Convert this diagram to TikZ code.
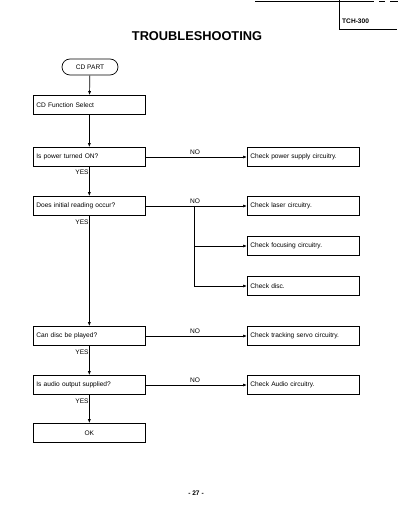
\documentclass[tikz,border=0pt]{standalone}
\usepackage{fontspec}
\setmainfont{Liberation Sans}
\usetikzlibrary{arrows.meta}
\begin{document}
\begin{tikzpicture}[x=1pt,y=-1pt,
  every node/.style={font=\fontsize{6.6}{7.5}\selectfont},
  box/.style={draw,line width=0.7pt,minimum height=19pt,text width=106pt,align=left,inner xsep=3pt,inner ysep=0pt,anchor=west},
  cbox/.style={box,align=center},
  term/.style={draw,line width=0.7pt,rounded corners=8pt,minimum width=56pt,minimum height=16pt,inner sep=0pt},
  lbl/.style={font=\fontsize{6.6}{7.5}\selectfont,inner sep=0pt},
  conn/.style={line width=0.7pt},
  arr/.style={conn,-{Latex[length=4pt,width=3pt]}}]
\useasboundingbox (0,0) rectangle (400,518);
% header
\draw[line width=0.6pt] (255,1) -- (374,1) (379,1) -- (385,1) (390,1) -- (398,1);
\draw[line width=0.6pt] (339,0) -- (339,29) -- (397,29);
\node[anchor=west,inner sep=0pt,font=\bfseries\fontsize{6.6}{7}\selectfont] (model) at (342,21) {TCH-300};
\node[inner sep=0pt,font=\bfseries\fontsize{12.8}{14}\selectfont] (title) at (197,36) {TROUBLESHOOTING};
% flow
\node[term] (start) at (90,67) {CD PART};
\node[box] (sel) at (33,105) {CD Function Select};
\node[box] (pwr) at (33,157) {Is power turned ON?};
\node[box] (init) at (33,206) {Does initial reading occur?};
\node[box] (play) at (33,336) {Can disc be played?};
\node[box] (aud) at (33,385) {Is audio output supplied?};
\node[cbox] (ok) at (33,433) {OK};
\node[box] (cpwr) at (247,157) {Check power supply circuitry.};
\node[box] (claser) at (247,206) {Check laser circuitry.};
\node[box] (cfocus) at (247,246) {Check focusing circuitry.};
\node[box] (cdisc) at (247,286) {Check disc.};
\node[box] (ctrack) at (247,336) {Check tracking servo circuitry.};
\node[box] (caud) at (247,385) {Check Audio circuitry.};
\coordinate (br) at (194,206);
\coordinate (brf) at (194,246);
\coordinate (brd) at (194,286);
% connectors
\draw[arr] (start) -- (sel);
\draw[arr] (sel) -- (pwr);
\draw[arr] (pwr) -- (init);
\draw[arr] (init) -- (play);
\draw[arr] (play) -- (aud);
\draw[arr] (aud) -- (ok);
\draw[arr] (pwr) -- (cpwr);
\draw[arr] (init) -- (claser);
\draw[conn] (br) -- (brd);
\draw[arr] (brf) -- (cfocus);
\draw[arr] (brd) -- (cdisc);
\draw[arr] (play) -- (ctrack);
\draw[arr] (aud) -- (caud);
% labels
\node[lbl] (no1) at (195,152) {NO};
\node[lbl] (no2) at (195,201) {NO};
\node[lbl] (no3) at (195,331) {NO};
\node[lbl] (no4) at (195,380) {NO};
\node[lbl] (y1) at (82,172) {YES};
\node[lbl] (y2) at (82,222) {YES};
\node[lbl] (y3) at (82,352) {YES};
\node[lbl] (y4) at (82,401) {YES};
\node[inner sep=0pt,font=\bfseries\fontsize{6.6}{7}\selectfont] (page) at (196,493) {- 27 -};
\end{tikzpicture}
\end{document}
